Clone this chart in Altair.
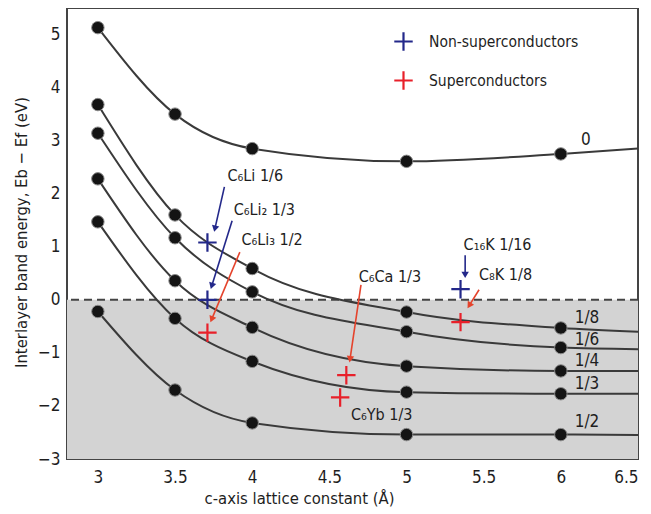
import math
import altair as alt
import pandas as pd

FONT = "DejaVu Sans Condensed, Liberation Sans Narrow, sans-serif"

# ---- data ----
x_grid = [3.0, 3.5, 4.0, 5.0, 6.0, 6.5]
series_names = ["0", "1/8", "1/6", "1/4", "1/3", "1/2"]
band_0 = [5.13, 3.50, 2.85, 2.61, 2.75, 2.85]
band_1_8 = [3.68, 1.60, 0.59, -0.23, -0.53, -0.60]
band_1_6 = [3.14, 1.17, 0.15, -0.60, -0.90, -0.93]
band_1_4 = [2.28, 0.36, -0.52, -1.25, -1.34, -1.34]
band_1_3 = [1.47, -0.35, -1.16, -1.74, -1.77, -1.77]
band_1_2 = [-0.22, -1.70, -2.32, -2.54, -2.54, -2.55]
bands = [band_0, band_1_8, band_1_6, band_1_4, band_1_3, band_1_2]

label_x = [6.13, 6.09, 6.09, 6.09, 6.09, 6.09]
label_y = [3.02, -0.35, -0.76, -1.16, -1.59, -2.31]

cross_names = ["C6Li", "C6Li2", "C16K", "C6Li3", "C6Ca", "C6Yb", "C8K"]
cross_x = [3.71, 3.71, 5.35, 3.71, 4.61, 4.57, 5.35]
cross_y = [1.08, 0.00, 0.20, -0.62, -1.42, -1.84, -0.42]
cross_kind = ["Non-superconductors"] * 3 + ["Superconductors"] * 4

ann_text = ["C\u2086Li 1/6", "C\u2086Li\u2082 1/3", "C\u2086Li\u2083 1/2", "C\u2086Ca 1/3",
            "C\u2086Yb 1/3", "C\u2081\u2086K 1/16", "C\u2088K 1/8"]
ann_x = [3.84, 3.88, 3.93, 4.69, 4.64, 5.37, 5.47]
ann_y = [2.33, 1.70, 1.12, 0.43, -2.18, 1.04, 0.47]

arrow_x1 = [3.82, 3.87, 3.92, 4.705, 5.38, 5.47]
arrow_y1 = [2.13, 1.49, 0.90, 0.28, 0.84, 0.19]
arrow_x2 = [3.76, 3.74, 3.74, 4.635, 5.38, 5.41]
arrow_y2 = [1.36, 0.28, -0.35, -1.10, 0.49, -0.09]
arrow_kind = ["blue", "blue", "red", "red", "blue", "red"]

x_ticks = [3, 3.5, 4, 4.5, 5, 5.5, 6, 6.5]
y_ticks = [-3, -2, -1, 0, 1, 2, 3, 4, 5]
X_DOM = [2.8, 6.5]
Y_DOM = [-3, 5.5]

W, H = 571, 451
BLUE = "#23288a"
RED = "#e8202a"
ARROW_RED = "#e5432c"
CROSS = "M-1,0L1,0M0,-1L0,1"

# ---- tables ----
rows = []
for name, vals in zip(series_names, bands):
    for xv, yv in zip(x_grid, vals):
        rows.append({"series": name, "x": xv, "y": yv})
curves = pd.DataFrame(rows)

curve_labels = pd.DataFrame({"label": series_names, "x": label_x, "y": label_y})
crosses = pd.DataFrame({"name": cross_names, "x": cross_x, "y": cross_y, "kind": cross_kind})
anns = pd.DataFrame({"text": ann_text, "x": ann_x, "y": ann_y})

sx = W / (X_DOM[1] - X_DOM[0])
sy = H / (Y_DOM[1] - Y_DOM[0])
angles = []
for a, b, c, d in zip(arrow_x1, arrow_y1, arrow_x2, arrow_y2):
    dx = (c - a) * sx
    dy = -(d - b) * sy
    angles.append(math.degrees(math.atan2(dx, -dy)) % 360)
arrows = pd.DataFrame({"x": arrow_x1, "y": arrow_y1, "x2": arrow_x2, "y2": arrow_y2,
                       "kind": arrow_kind, "angle": angles})
shade = pd.DataFrame({"x": [X_DOM[0]], "x2": [X_DOM[1]], "y": [Y_DOM[0]], "y2": [0]})

xs = alt.Scale(domain=X_DOM, nice=False, zero=False)
ys = alt.Scale(domain=Y_DOM, nice=False, zero=False)

x_axis = alt.Axis(values=x_ticks, format="~g", title="c-axis lattice constant (Å)",
                  grid=False, domain=False, ticks=False, labelPadding=10,
                  labelFontSize=17, labelFont=FONT, labelColor="#1e1e1e",
                  labelBound=False, labelFlush=True, labelOverlap=False,
                  titleFont=FONT, titleFontSize=16.5, titleFontWeight="normal",
                  titleColor="#1e1e1e", titleX=232, titleY=39, titleAlign="center",
                  titleBaseline="middle")
y_axis = alt.Axis(values=y_ticks, format="d", title="Interlayer band energy, Eb − Ef (eV)",
                  grid=False, domain=False, ticks=False, labelPadding=7,
                  labelFontSize=17, labelFont=FONT, labelColor="#1e1e1e",
                  labelBound=False, labelFlush=False, labelOverlap=False,
                  titleFont=FONT, titleFontSize=16.5, titleFontWeight="normal",
                  titleColor="#1e1e1e", titleX=-46, titleY=224, titleAngle=270,
                  titleAlign="center", titleBaseline="middle")

shade_l = alt.Chart(shade).mark_rect(color="#d3d3d3").encode(
    x=alt.X("x:Q", scale=xs, axis=x_axis), x2="x2", y=alt.Y("y:Q", scale=ys, axis=y_axis), y2="y2")

zero_l = alt.Chart(shade).mark_rule(color="#444", strokeWidth=2, strokeDash=[8, 5]).encode(
    y=alt.datum(0, scale=ys))

lines_l = alt.Chart(curves).mark_line(interpolate="monotone", color="#3a3a3a", strokeWidth=2).encode(
    x=alt.X("x:Q", scale=xs), y=alt.Y("y:Q", scale=ys), detail="series:N")

dots_l = alt.Chart(curves).transform_filter("datum.x <= 6").mark_circle(
    size=155, color="#141414", opacity=1, stroke="#8a8a8a", strokeWidth=1).encode(
    x=alt.X("x:Q", scale=xs), y=alt.Y("y:Q", scale=ys))

clabels_l = alt.Chart(curve_labels).mark_text(
    align="left", baseline="middle", font=FONT, fontSize=17, color="#1e1e1e").encode(
    x=alt.X("x:Q", scale=xs), y=alt.Y("y:Q", scale=ys), text="label:N")

arrow_color = alt.Color("kind:N", scale=alt.Scale(domain=["blue", "red"], range=[BLUE, ARROW_RED]), legend=None)
arrow_l = alt.Chart(arrows).mark_rule(strokeWidth=1.6).encode(
    x=alt.X("x:Q", scale=xs), y=alt.Y("y:Q", scale=ys), x2="x2", y2="y2", color=arrow_color)
head_l = alt.Chart(arrows).mark_point(shape="triangle", filled=True, size=55, opacity=1).encode(
    x=alt.X("x2:Q", scale=xs), y=alt.Y("y2:Q", scale=ys), angle=alt.Angle("angle:Q", scale=None),
    color=arrow_color)

ann_l = alt.Chart(anns).mark_text(
    align="left", baseline="middle", font=FONT, fontSize=16, color="#1e1e1e").encode(
    x=alt.X("x:Q", scale=xs), y=alt.Y("y:Q", scale=ys), text="text:N")

cross_l = alt.Chart(crosses).mark_point(
    shape=CROSS, filled=False, size=340, strokeWidth=2.2, opacity=1).encode(
    x=alt.X("x:Q", scale=xs), y=alt.Y("y:Q", scale=ys),
    color=alt.Color("kind:N", scale=alt.Scale(domain=["Non-superconductors", "Superconductors"],
                                              range=[BLUE, RED]),
                    legend=alt.Legend(title=None, orient="none", legendX=326, legendY=23,
                                      symbolType=CROSS, symbolSize=340,
                                      symbolStrokeWidth=2.2, symbolFillColor="transparent",
                                      labelFont=FONT, labelFontSize=15.5, labelColor="#1e1e1e",
                                      labelLimit=400, rowPadding=10, labelOffset=15, padding=0)))

chart = alt.layer(shade_l, zero_l, lines_l, dots_l, clabels_l, arrow_l, head_l, ann_l, cross_l).resolve_scale(
    color="independent").properties(
    width=W, height=H,
    autosize=alt.AutoSizeParams(type="none"),
    padding={"left": 59, "top": 0, "right": 5, "bottom": 52},
).configure_view(stroke="#444", strokeWidth=2)

chart.save("out.html", embed_options={"renderer": "svg", "actions": False})
